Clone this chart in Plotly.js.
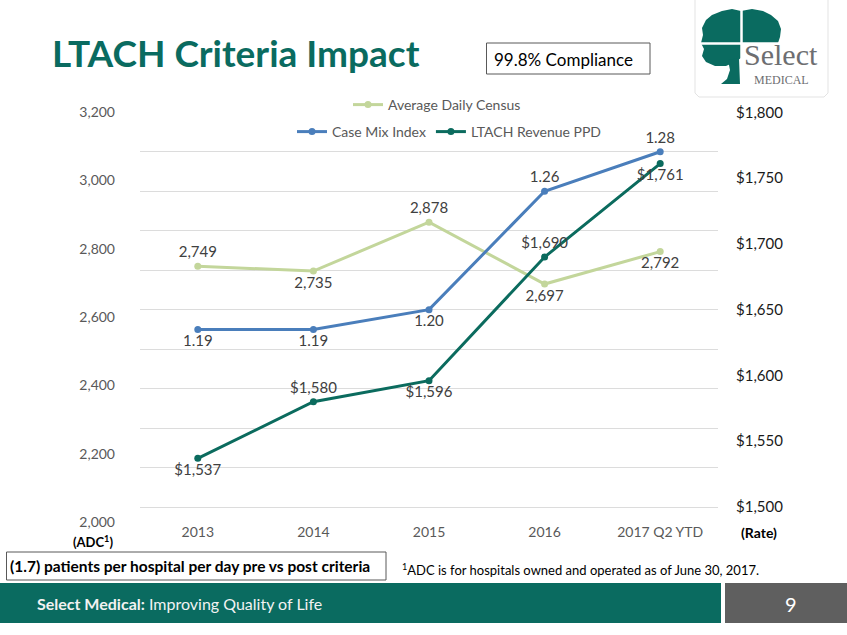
<!DOCTYPE html>
<html><head><meta charset="utf-8">
<script src="https://cdn.plot.ly/plotly-3.0.1.min.js"></script>
<style>html,body{margin:0;padding:0;background:#fff}#chart{width:847px;height:635px}</style>
</head><body><div id="chart"></div>
<script>
// ---- data ----
const categories = ['2013', '2014', '2015', '2016', '2017 Q2 YTD'];
const adcValues = [2749, 2735, 2878, 2697, 2792];
const cmiValues = [1.19, 1.19, 1.20, 1.26, 1.28];
const revenueValues = [1537, 1580, 1596, 1690, 1761];
const adcLabels = ['2,749', '2,735', '2,878', '2,697', '2,792'];
const cmiLabels = ['1.19', '1.19', '1.20', '1.26', '1.28'];
const revenueLabels = ['$1,537', '$1,580', '$1,596', '$1,690', '$1,761'];
const leftTickVals = [2000, 2200, 2400, 2600, 2800, 3000, 3200];
const leftTickText = ['2,000', '2,200', '2,400', '2,600', '2,800', '3,000', '3,200'];
const rightTickVals = [1500, 1550, 1600, 1650, 1700, 1750, 1800];
const rightTickText = ['$1,500', '$1,550', '$1,600', '$1,650', '$1,700', '$1,750', '$1,800'];

// ---- styles ----
const adcPos = ['top center', 'bottom center', 'top center', 'bottom center', 'bottom center'];
const cmiPos = ['bottom center', 'bottom center', 'bottom center', 'top center', 'top center'];
const revPos = ['bottom center', 'top center', 'bottom center', 'top center', 'bottom center'];
const W = 847, H = 635;
const px = x => x / W;
const py = y => 1 - y / H;
const TEAL = '#0a6b60';
const FONT = 'Lato, "Open Sans", sans-serif';
const labelFont = {family: FONT, size: 15, color: '#404040'};

const traces = [
  {x: categories, y: adcValues, name: 'Average Daily Census', type: 'scatter', mode: 'lines+markers+text',
   yaxis: 'y', line: {color: '#c3d69b', width: 3}, marker: {color: '#c3d69b', size: 7},
   text: adcLabels, textposition: adcPos, textfont: labelFont, legend: 'legend', cliponaxis: false, hoverinfo: 'skip'},
  {x: categories, y: cmiValues, name: 'Case Mix Index', type: 'scatter', mode: 'lines+markers+text',
   yaxis: 'y3', line: {color: '#4a7ebb', width: 3}, marker: {color: '#4a7ebb', size: 7},
   text: cmiLabels, textposition: cmiPos, textfont: labelFont, legend: 'legend2', cliponaxis: false, hoverinfo: 'skip'},
  {x: categories, y: revenueValues, name: 'LTACH Revenue PPD', type: 'scatter', mode: 'lines+markers+text',
   yaxis: 'y2', line: {color: '#0b6b5e', width: 3}, marker: {color: '#0b6b5e', size: 7},
   text: revenueLabels, textposition: revPos, textfont: labelFont, legend: 'legend2', cliponaxis: false, hoverinfo: 'skip'}
];

function path(pts) {
  return 'M' + pts.map(p => px(p[0]).toFixed(5) + ',' + py(p[1]).toFixed(5)).join(' L') + ' Z';
}
const crown = [[741,11],[752,9],[763,11],[771,15],[778,21],[781,29],[780,37],[778,43],[741,43],[741,58],
  [735,62],[726,66],[715,66],[706,62],[702,56],[704,49],[701,43],[703,35],[702,28],[706,20],[712,15],[722,11],[732,9]];
const trunk = [[728,60],[739,58],[740,84],[721,84],[727,79],[730,70]];
const logoBox = [[697,-4],[825,-4],[828,0],[828,93],[824,97],[699,97],[695,93],[695,0]];

const shapes = [
  {type: 'path', xref: 'paper', yref: 'paper', path: path(logoBox), line: {color: '#e3e3e3', width: 1}, fillcolor: '#ffffff', layer: 'above'},
  {type: 'path', xref: 'paper', yref: 'paper', path: path(crown), line: {width: 0}, fillcolor: TEAL, layer: 'above'},
  {type: 'path', xref: 'paper', yref: 'paper', path: path(trunk), line: {width: 0}, fillcolor: TEAL, layer: 'above'},
  {type: 'line', xref: 'paper', yref: 'paper', x0: px(741.5), x1: px(741.5), y0: py(8), y1: py(85), line: {color: '#ffffff', width: 2.5}, layer: 'above'},
  {type: 'line', xref: 'paper', yref: 'paper', x0: px(699), x1: px(783), y0: py(43.5), y1: py(43.5), line: {color: '#ffffff', width: 2.5}, layer: 'above'},
  // compliance box
  {type: 'rect', xref: 'paper', yref: 'paper', x0: px(486.5), x1: px(650), y0: py(43), y1: py(74), line: {color: '#595959', width: 1}, fillcolor: 'rgba(0,0,0,0)'},
  // bottom note box
  {type: 'rect', xref: 'paper', yref: 'paper', x0: px(6.5), x1: px(386), y0: py(552), y1: py(580), line: {color: '#595959', width: 1}, fillcolor: '#ffffff'},
  // footer
  {type: 'rect', xref: 'paper', yref: 'paper', x0: 0, x1: px(721), y0: py(583), y1: py(623), line: {width: 0}, fillcolor: TEAL},
  {type: 'rect', xref: 'paper', yref: 'paper', x0: px(725), x1: 1, y0: py(583), y1: py(623), line: {width: 0}, fillcolor: '#5f5f5f'}
];

const ann = (x, y, text, font, xanchor, yanchor) => ({xref: 'paper', yref: 'paper', x: px(x), y: py(y), text, showarrow: false,
  font, xanchor: xanchor || 'left', yanchor: yanchor || 'middle', align: 'left', borderpad: 0});

const annotations = [
  ann(51, 53, '<b>LTACH Criteria Impact</b>', {family: FONT, size: 37, color: TEAL}),
  ann(493, 59, '99.8% Compliance', {family: FONT, size: 17, color: '#000000'}),
  ann(781, 55, 'Select', {family: '"Liberation Serif", serif', size: 30, color: '#6d6e71'}, 'center'),
  ann(781, 80, 'MEDICAL', {family: '"Liberation Serif", serif', size: 12, color: '#6d6e71'}, 'center'),
  ann(93, 541, '<b>(ADC<sup>1</sup>)</b>', {family: FONT, size: 13, color: '#000000'}, 'center'),
  ann(759, 532, '<b>(Rate)</b>', {family: FONT, size: 14, color: '#000000'}, 'center'),
  ann(9, 566, '<b>(1.7) patients per hospital per day pre vs post criteria</b>', {family: FONT, size: 15.5, color: '#000000'}),
  ann(401, 569, '<sup>1</sup>ADC is for hospitals owned and operated as of June 30, 2017.', {family: FONT, size: 13, color: '#000000'}),
  ann(36, 603, '<b>Select Medical:</b> Improving Quality of Life', {family: FONT, size: 16, color: '#f2f2f2'}),
  ann(791, 604, '9', {family: FONT, size: 20, color: '#ffffff'}, 'center')
];

const layout = {
  width: W, height: H,
  margin: {l: 0, r: 0, t: 0, b: 0},
  paper_bgcolor: '#ffffff', plot_bgcolor: 'rgba(0,0,0,0)',
  showlegend: true,
  font: {family: FONT},
  xaxis: {domain: [px(140), px(718)], type: 'category', range: [-0.5, 4.5], showgrid: false, showline: false, ticks: '',
    zeroline: false, tickfont: {family: FONT, size: 14, color: '#595959'}, fixedrange: true},
  yaxis: {domain: [py(522), py(112.3)], range: [2000, 3200], tickvals: leftTickVals, ticktext: leftTickText, showgrid: false,
    zeroline: false, showline: false, ticks: '', ticklabelstandoff: 24, tickfont: {family: FONT, size: 14, color: '#595959'}},
  yaxis2: {overlaying: 'y', side: 'right', range: [1488.6, 1800], tickvals: rightTickVals, ticktext: rightTickText, showgrid: false,
    zeroline: false, showline: false, ticks: '', ticklabelstandoff: 17, tickfont: {family: FONT, size: 15, color: '#1a1a1a'}},
  yaxis3: {overlaying: 'y', side: 'right', range: [1.0924, 1.30], tick0: 1.10, dtick: 0.02, showticklabels: false, showgrid: true,
    gridcolor: '#dcdcdc', gridwidth: 1, zeroline: false, showline: false, ticks: ''},
  legend: {orientation: 'h', x: px(437), xanchor: 'center', y: py(105), yanchor: 'middle', bgcolor: '#ffffff',
    font: {family: FONT, size: 14, color: '#595959'}},
  legend2: {orientation: 'h', x: px(449), xanchor: 'center', y: py(132), yanchor: 'middle', bgcolor: 'rgba(0,0,0,0)',
    font: {family: FONT, size: 14, color: '#595959'}},
  shapes, annotations
};

Plotly.newPlot('chart', traces, layout, {displayModeBar: false, staticPlot: true});
</script>
</body></html>
